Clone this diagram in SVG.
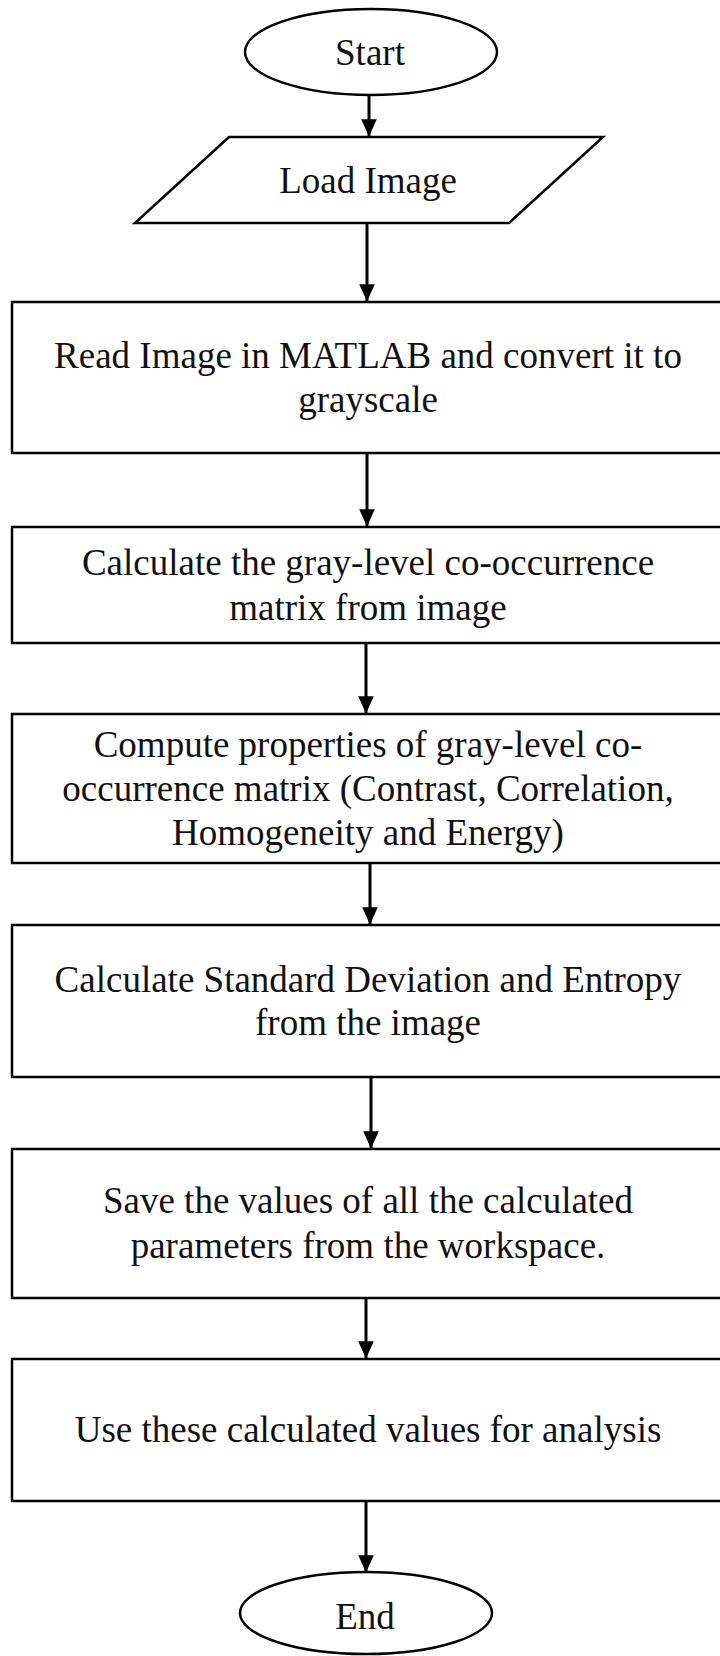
<svg xmlns="http://www.w3.org/2000/svg" width="720" height="1656" viewBox="0 0 720 1656">
  <style>
    .shape { fill: #ffffff; stroke: #000000; stroke-width: 2.5; }
    .label { font-family: "Liberation Serif", "Times New Roman", serif; font-size: 37px; fill: #111111; text-anchor: middle; }
    .flow { stroke: #000000; stroke-width: 3; fill: none; marker-end: url(#arrow); }
  </style>
  <defs>
    <marker id="arrow" markerWidth="6" markerHeight="6" refX="5.6" refY="3" orient="auto" markerUnits="strokeWidth">
      <path d="M0,0.4 L5.8,3 L0,5.6 Z" fill="#000000"/>
    </marker>
  </defs>
  <rect width="720" height="1656" fill="#ffffff"/>

  <g id="connectors">
    <line class="flow" x1="369" y1="95" x2="369" y2="136"/>
    <line class="flow" x1="367" y1="223" x2="367" y2="301"/>
    <line class="flow" x1="367" y1="453" x2="367" y2="526"/>
    <line class="flow" x1="366" y1="643" x2="366" y2="713"/>
    <line class="flow" x1="370" y1="863" x2="370" y2="924"/>
    <line class="flow" x1="371" y1="1077" x2="371" y2="1148"/>
    <line class="flow" x1="366" y1="1298" x2="366" y2="1358"/>
    <line class="flow" x1="366" y1="1501" x2="366" y2="1572"/>
  </g>

  <g id="start">
    <ellipse class="shape" cx="371" cy="52" rx="126" ry="43"/>
    <text class="label" x="370" y="65" font-size="35">Start</text>
  </g>

  <g id="load-image">
    <polygon class="shape" points="229,137 603,137 509,223 135,223"/>
    <text class="label" x="368" y="193">Load Image</text>
  </g>

  <g id="read-image">
    <rect class="shape" x="12" y="302" width="720" height="151"/>
    <text class="label" x="368" y="368">Read Image in MATLAB and convert it to</text>
    <text class="label" x="368" y="412">grayscale</text>
  </g>

  <g id="glcm">
    <rect class="shape" x="12" y="527" width="720" height="116"/>
    <text class="label" x="368" y="575">Calculate the gray-level co-occurrence</text>
    <text class="label" x="368" y="620">matrix from image</text>
  </g>

  <g id="glcm-properties">
    <rect class="shape" x="12" y="714" width="720" height="149"/>
    <text class="label" x="368" y="757">Compute properties of gray-level co-</text>
    <text class="label" x="368" y="801">occurrence matrix (Contrast, Correlation,</text>
    <text class="label" x="368" y="845">Homogeneity and Energy)</text>
  </g>

  <g id="std-entropy">
    <rect class="shape" x="12" y="925" width="720" height="152"/>
    <text class="label" x="368" y="992">Calculate Standard Deviation and Entropy</text>
    <text class="label" x="368" y="1035">from the image</text>
  </g>

  <g id="save-values">
    <rect class="shape" x="12" y="1149" width="720" height="149"/>
    <text class="label" x="368" y="1213">Save the values of all the calculated</text>
    <text class="label" x="368" y="1258">parameters from the workspace.</text>
  </g>

  <g id="analysis">
    <rect class="shape" x="12" y="1359" width="720" height="142"/>
    <text class="label" x="368" y="1442">Use these calculated values for analysis</text>
  </g>

  <g id="end">
    <ellipse class="shape" cx="366" cy="1613" rx="126" ry="41"/>
    <text class="label" x="365" y="1629" font-size="35">End</text>
  </g>
</svg>
